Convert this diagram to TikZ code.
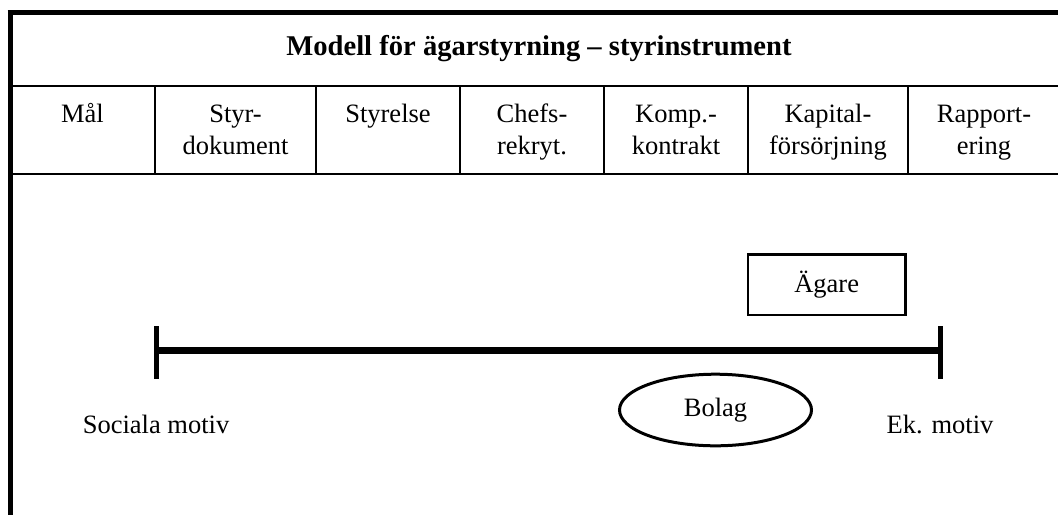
\documentclass[tikz,border=0pt]{standalone}
\usepackage{fontspec}
\setmainfont{Liberation Serif}
\usetikzlibrary{shapes.geometric, positioning}
\newcommand{\bodyfont}{\fontsize{26.5}{32}\selectfont}
\tikzset{
    frameline/.style={line width=5pt},
    gridline/.style={line width=2pt},
    titletext/.style={font=\fontsize{28.6}{34}\selectfont\bfseries, inner sep=0pt},
    cell/.style={anchor=north, inner sep=0pt, align=center, font=\bodyfont},
    plain/.style={inner sep=0pt, font=\bodyfont},
    ownerbox/.style={rectangle, draw, line width=2.5pt, font=\bodyfont, minimum width=157.5pt, minimum height=60.2pt, inner sep=0pt},
    companybox/.style={ellipse, draw, line width=3pt, font=\bodyfont, minimum width=192pt, minimum height=71.6pt, inner sep=0pt},
    scalebar/.style={line width=7.5pt},
    scaletick/.style={line width=5pt}
}
\begin{document}
\begin{tikzpicture}[x=1pt, y=1pt]

    \useasboundingbox (0,0) rectangle (1058,-515);

    % frame and header table
    \draw [frameline] (7.5,-12.5) -- (1058,-12.5);
    \draw [frameline] (10,-10) -- (10,-515);
    \draw [gridline] (10,-86) -- (1058,-86);
    \draw [gridline] (10,-174) -- (1058,-174);
    \foreach \x in {155,316,460,604,748,908}
        \draw [gridline] (\x,-86) -- (\x,-174);

    \node (title) [titletext, anchor=base] at (539,-55) {Modell för ägarstyrning – styrinstrument};

    \node (mal)    [cell] at (82.5,-99.6)  {\strut Mål};
    \node (styrdok)[cell] at (235.5,-99.6) {\strut Styr-\\dokument};
    \node (styrel) [cell] at (388,-99.6)   {\strut Styrelse};
    \node (chefs)  [cell] at (532,-99.6)   {\strut Chefs-\\rekryt.};
    \node (komp)   [cell] at (676,-99.6)   {\strut Komp.-\\kontrakt};
    \node (kapital)[cell] at (828,-99.6)   {\strut Kapital-\\försörjning};
    \node (rapport)[cell] at (984,-99.6)   {\strut Rapport-\\ering};

    % scale from social to economic motives
    \coordinate (soc) at (156,-350.5);
    \coordinate (ek)  at (940,-350.5);
    \draw [scalebar] (soc) -- (ek);
    \draw [scaletick] ([yshift=24.5pt]soc) -- ([yshift=-28.5pt]soc);
    \draw [scaletick] ([yshift=24.5pt]ek) -- ([yshift=-28.5pt]ek);

    \node (soclabel) [plain, anchor=base] at (156,-433) {Sociala motiv};
    \node (eklabel)  [plain, anchor=base] at (940,-433) {Ek. motiv};

    \node (agare) [ownerbox]   at (826.7,-284.7) {Ägare};
    \node (bolag) [companybox] at (715.5,-410)   {Bolag};

\end{tikzpicture}
\end{document}
